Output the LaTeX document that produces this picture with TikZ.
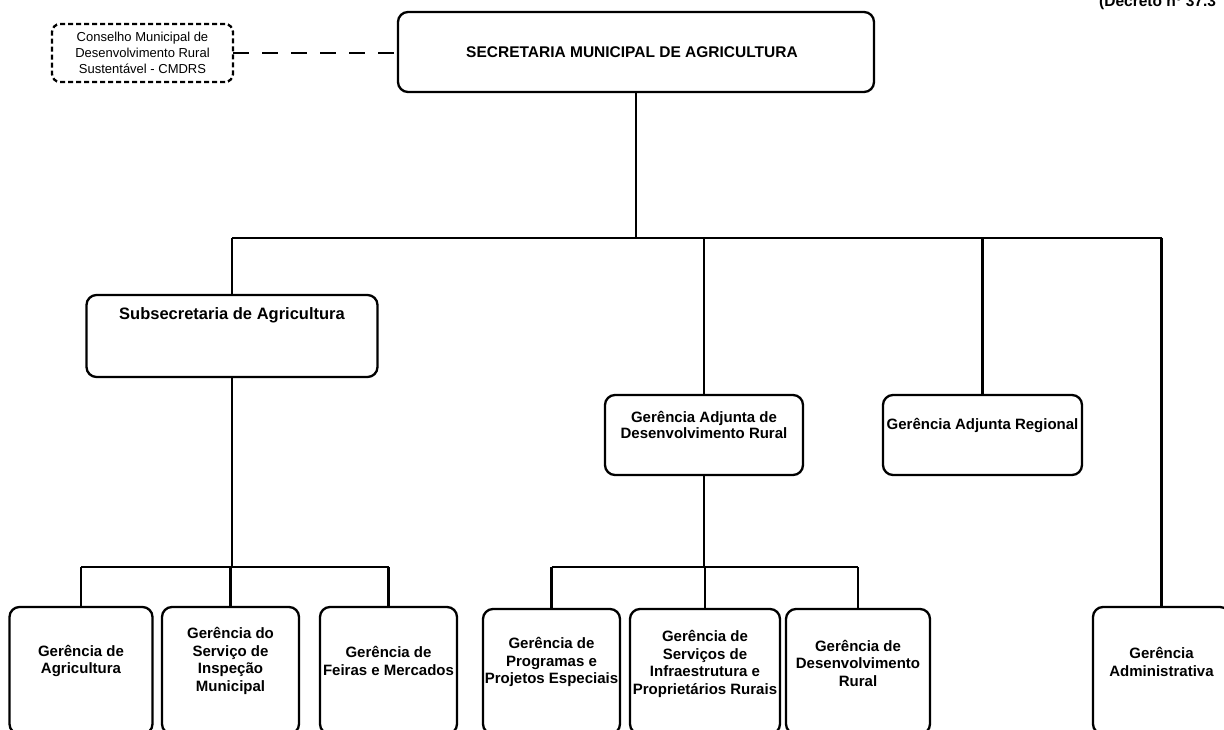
\documentclass[tikz,border=0pt]{standalone}
\usepackage{fontspec}
\setmainfont{Liberation Sans}
\begin{document}
\begin{tikzpicture}[x=1pt,y=-1pt,
  box/.style={draw, line width=2.3pt, rounded corners=10pt, inner sep=0pt, outer sep=0pt},
  dbox/.style={draw, line width=2.3pt, rounded corners=8pt, dash pattern=on 5pt off 3pt, inner sep=0pt, outer sep=0pt},
  conn/.style={line width=2.5pt},
  dconn/.style={line width=2.8pt, dash pattern=on 16pt off 13pt},
  txt/.style={align=center, inner sep=0pt, font=\fontsize{15}{17.5}\selectfont\bfseries},
  txtb/.style={align=center, inner sep=0pt, font=\fontsize{15}{16.5}\selectfont\bfseries},
  small/.style={align=center, inner sep=0pt, font=\fontsize{13}{16}\selectfont},
]
\clip (0,0) rectangle (1224,730);
% header text (cut at the top and right)
\node[anchor=base west, inner sep=0pt, font=\fontsize{15.5}{18}\selectfont\bfseries] (dec) at (1099,6.7) {(Decreto nº 37.3};
% top
\node[box, minimum width=476pt, minimum height=80pt] (sec) at (636,52) {};
\node[txt, font=\fontsize{15.5}{18}\selectfont\bfseries] (secT) at (632,52) {SECRETARIA MUNICIPAL DE AGRICULTURA};
\node[dbox, minimum width=181pt, minimum height=58pt] (cmd) at (142.5,53) {};
\node[small] (cmdT) at (142.5,53) {Conselho Municipal de\\Desenvolvimento Rural\\Sustentável - CMDRS};
% level 2
\node[box, minimum width=291pt, minimum height=82pt] (sub) at (232,336) {};
\node[txt, font=\fontsize{16.5}{19}\selectfont\bfseries] (subT) at (232,315) {Subsecretaria de Agricultura};
\node[box, minimum width=198pt, minimum height=80pt] (adj) at (704,435) {};
\node[txtb] (adjT) at (704,425) {Gerência Adjunta de\\Desenvolvimento Rural};
\node[box, minimum width=199pt, minimum height=80pt] (reg) at (982.5,435) {};
\node[txtb] (regT) at (982.5,425) {Gerência Adjunta Regional};
% level 3 left
\node[box, minimum width=143pt, minimum height=127pt] (g1) at (81,670.5) {};
\node[txt] (g1T) at (81,661) {Gerência de\\Agricultura};
\node[box, minimum width=137pt, minimum height=127pt] (g2) at (230.5,670.5) {};
\node[txt] (g2T) at (230.5,661) {Gerência do\\Serviço de\\Inspeção\\Municipal};
\node[box, minimum width=137pt, minimum height=127pt] (g3) at (388.5,670.5) {};
\node[txt] (g3T) at (388.5,661) {Gerência de\\Feiras e Mercados};
% level 3 right
\node[box, minimum width=137pt, minimum height=125pt] (g4) at (551.5,671.5) {};
\node[txt] (g4T) at (551.5,662) {Gerência de\\Programas e\\Projetos Especiais};
\node[box, minimum width=150pt, minimum height=125pt] (g5) at (705,671.5) {};
\node[txt] (g5T) at (705,664) {Gerência de\\Serviços de\\Infraestrutura e\\Proprietários Rurais};
\node[box, minimum width=144pt, minimum height=125pt] (g6) at (858,671.5) {};
\node[txt] (g6T) at (858,663) {Gerência de\\Desenvolvimento\\Rural};
\node[box, minimum width=137pt, minimum height=127pt] (adm) at (1161.5,670.5) {};
\node[txt] (admT) at (1161.5,662) {Gerência\\Administrativa};
% connectors
\draw[dconn] (cmd.east) -- (cmd.east -| sec.west);
\coordinate (bL) at (232,238);
\coordinate (bR) at (1161.5,238);
\draw[conn] (sec.south) -- (sec.south |- bL);
\draw[conn] (bL) -- (bR);
\draw[conn] (bL) -- (sub.north);
\draw[conn] (adj.north |- bL) -- (adj.north);
\draw[conn] (reg.north |- bL) -- (reg.north);
\draw[conn] (bR) -- (adm.north);
\coordinate (sL) at (81,567);
\coordinate (sR) at (388.5,567);
\draw[conn] (sub.south) -- (sub.south |- sL);
\draw[conn] (sL) -- (sR);
\draw[conn] (sL) -- (g1.north);
\draw[conn] (g2.north |- sL) -- (g2.north);
\draw[conn] (sR) -- (g3.north);
\coordinate (rL) at (551.5,567);
\coordinate (rR) at (858,567);
\draw[conn] (adj.south) -- (adj.south |- rL);
\draw[conn] (rL) -- (rR);
\draw[conn] (rL) -- (g4.north);
\draw[conn] (g5.north |- rL) -- (g5.north);
\draw[conn] (rR) -- (g6.north);
\end{tikzpicture}
\end{document}
